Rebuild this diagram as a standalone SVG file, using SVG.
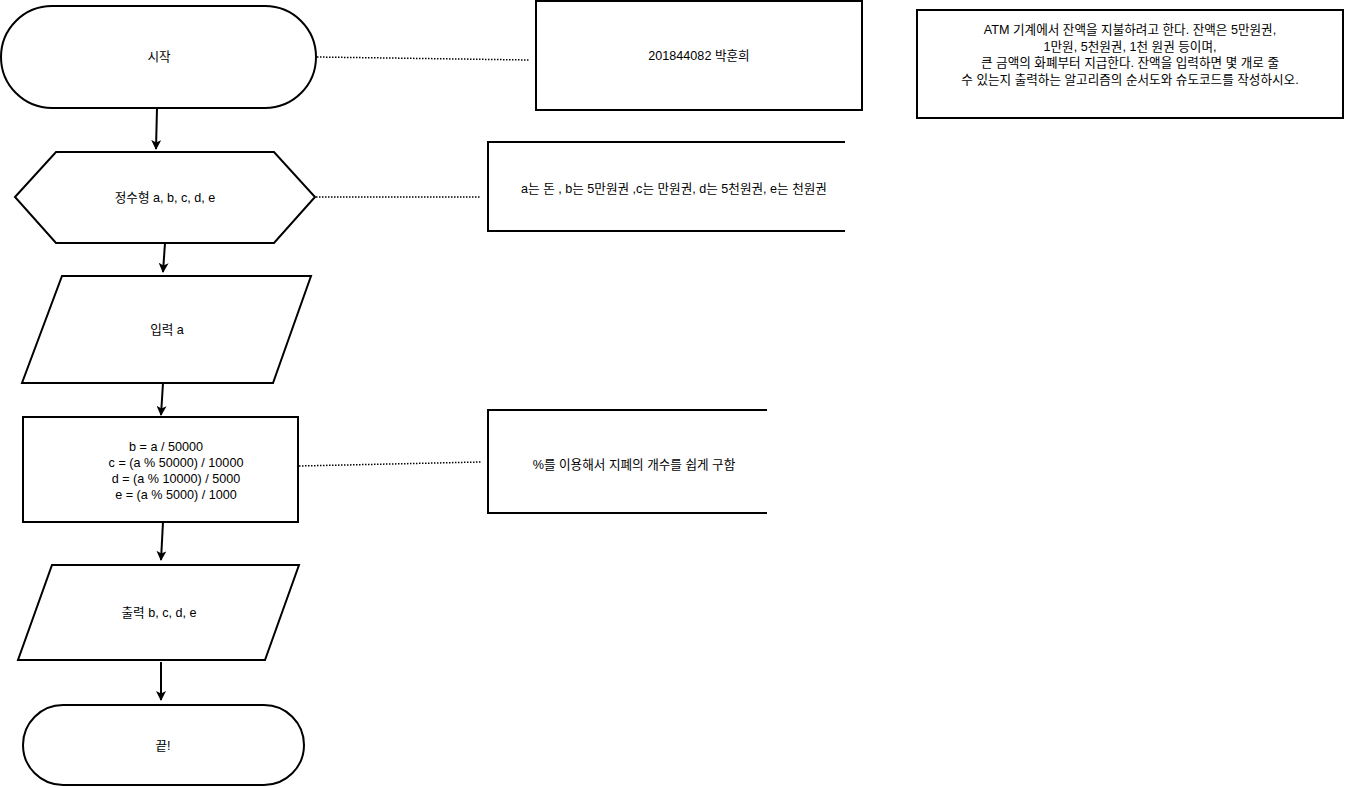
<svg xmlns="http://www.w3.org/2000/svg" width="1347" height="788" viewBox="0 0 1347 788">
<style>
.s{fill:#fff;stroke:#000;stroke-width:2}
.o{fill:none;stroke:#000;stroke-width:2}
.t{font-family:"Liberation Sans","Noto Sans CJK KR",sans-serif;font-size:12.6px;fill:#000;text-anchor:middle;dominant-baseline:central}
.e{fill:none;stroke:#000;stroke-width:2}
.d{fill:none;stroke:#000;stroke-width:1.5;stroke-dasharray:1.5 1.5}
</style>
<defs>
<marker id="ah" markerWidth="10" markerHeight="10" refX="9" refY="5" orient="auto" markerUnits="userSpaceOnUse">
<path d="M0,0 L10,5 L0,10 L2.5,5 Z" fill="#000"/>
</marker>
</defs>
<rect width="1347" height="788" fill="#fff"/>
<g id="connectors">
<line class="e" x1="157" y1="108" x2="156" y2="149" marker-end="url(#ah)"/>
<line class="e" x1="165" y1="243" x2="163" y2="272" marker-end="url(#ah)"/>
<line class="e" x1="163" y1="383" x2="161" y2="415" marker-end="url(#ah)"/>
<line class="e" x1="163" y1="522" x2="161" y2="560" marker-end="url(#ah)"/>
<line class="e" x1="161" y1="662" x2="161" y2="700" marker-end="url(#ah)"/>
<line class="d" x1="317" y1="57" x2="529" y2="60"/>
<line class="d" x1="316" y1="197" x2="481" y2="197"/>
<line class="d" x1="299" y1="466" x2="481" y2="462"/>
</g>
<g id="start">
<rect class="s" x="1" y="6" width="315" height="102" rx="51" ry="51"/>
<text class="t" x="159" y="57">시작</text>
</g>
<g id="author">
<rect class="s" x="536" y="1" width="326" height="109"/>
<text class="t" x="699" y="56">201844082 박훈희</text>
</g>
<g id="problem">
<rect class="s" x="917" y="10" width="426" height="108"/>
<text class="t" x="1130" y="30">ATM 기계에서 잔액을 지불하려고 한다. 잔액은 5만원권,</text>
<text class="t" x="1130" y="47">1만원, 5천원권, 1천 원권 등이며,</text>
<text class="t" x="1130" y="63">큰 금액의 화폐부터 지급한다. 잔액을 입력하면 몇 개로 줄</text>
<text class="t" x="1130" y="80">수 있는지 출력하는 알고리즘의 순서도와 슈도코드를 작성하시오.</text>
</g>
<g id="declare">
<polygon class="s" points="15,197 56,152 274,152 315,197 274,243 56,243"/>
<text class="t" x="165" y="198">정수형 a, b, c, d, e</text>
</g>
<g id="note-vars">
<path class="o" d="M845,142 H488 V231 H845"/>
<text class="t" x="674" y="189">a는 돈 , b는 5만원권 ,c는 만원권, d는 5천원권, e는 천원권</text>
</g>
<g id="input">
<polygon class="s" points="62,276 311,276 273,383 22,383"/>
<text class="t" x="167" y="330">입력 a</text>
</g>
<g id="process">
<rect class="s" x="23" y="417" width="275" height="105"/>
<text class="t" x="166" y="447">b = a / 50000</text>
<text class="t" x="176" y="463">c = (a % 50000) / 10000</text>
<text class="t" x="176" y="479">d = (a % 10000) / 5000</text>
<text class="t" x="176" y="495">e = (a % 5000) / 1000</text>
</g>
<g id="note-mod">
<path class="o" d="M767,410 H488 V513 H767"/>
<text class="t" x="634" y="465">%를 이용해서 지폐의 개수를 쉽게 구함</text>
</g>
<g id="output">
<polygon class="s" points="52,565 299,565 265,660 18,660"/>
<text class="t" x="159" y="613">출력 b, c, d, e</text>
</g>
<g id="end">
<rect class="s" x="23" y="705" width="281" height="80" rx="40" ry="40"/>
<text class="t" x="163" y="746">끝!</text>
</g>
</svg>
